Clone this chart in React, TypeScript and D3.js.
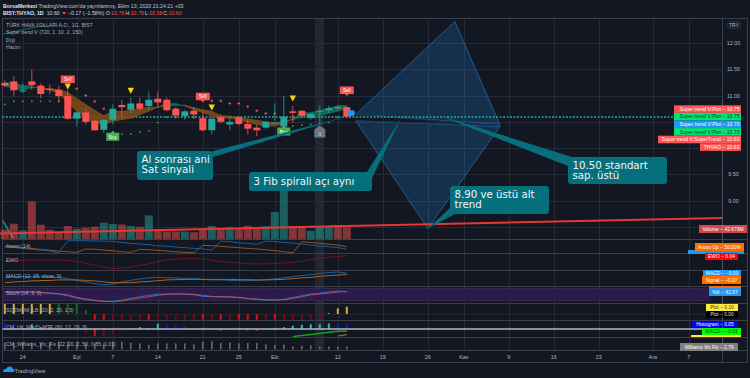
import React from "react";
import * as d3 from "d3";

// ---------- candles (price, TRY) ----------
const opens = [11.24,11.27,11.08,11.27,11.19,11.13,11.11,10.99,10.56,10.68,10.52,10.35,10.54,10.82,10.73,10.85,10.80,10.94,10.92,10.75,10.61,10.71,10.57,10.34,10.59,10.45,10.59,10.46,10.39,10.39,10.48,10.41,10.70,10.71,10.57,10.70,10.72,10.78,10.78];
const closes = [11.19,11.10,11.10,11.20,11.03,11.11,10.99,10.56,10.68,10.50,10.34,10.54,10.75,10.78,10.85,10.75,10.92,10.87,10.72,10.62,10.70,10.64,10.34,10.56,10.50,10.50,10.46,10.37,10.34,10.50,10.49,10.60,10.67,10.62,10.65,10.71,10.76,10.76,10.60];
const highs = [11.29,11.37,11.23,11.49,11.23,11.21,11.18,11.11,10.70,10.76,10.54,10.54,10.83,10.92,10.96,10.96,11.08,11.08,10.96,10.78,10.73,10.78,10.70,10.59,10.64,10.61,10.61,10.54,10.45,10.51,10.85,11.00,10.80,10.73,10.67,10.81,10.81,10.80,10.79];
const lows = [11.16,10.99,11.05,11.11,10.95,11.02,10.86,10.54,10.42,10.45,10.33,10.29,10.45,10.57,10.67,10.70,10.73,10.76,10.70,10.56,10.54,10.56,10.32,10.26,10.47,10.34,10.43,10.26,10.23,10.37,10.52,10.41,10.48,10.57,10.54,10.48,10.67,10.73,10.58];
const volumes = [34.6,56.8,32,139.6,53,34.6,26,48,38,42,45.7,60.5,55.6,54,48,45.7,87.7,33,28,28,28,25,34.6,48,39.5,44.5,38,49,44.5,47,100,181,48,43,31,45.7,48,52,42.68];

// ---------- trend ribbon ----------
const ribbonFast = [11.25,11.24,11.19,11.18,11.13,11.10,11.05,10.86,10.70,10.57,10.48,10.45,10.51,10.54,10.57,10.64,10.70,10.78,10.86,10.85,10.80,10.73,10.68,10.61,10.57,10.57,10.54,10.49,10.45,10.42,10.42,10.46,10.57,10.67,10.68,10.72,10.76,10.81,10.81];
const ribbonSlow = [11.18,11.13,11.11,11.15,11.15,11.13,11.11,11.06,10.95,10.83,10.72,10.62,10.70,10.70,10.72,10.75,10.78,10.78,10.80,10.81,10.82,10.77,10.73,10.70,10.62,10.61,10.57,10.56,10.53,10.50,10.48,10.51,10.54,10.59,10.61,10.62,10.66,10.70,10.75];

// ---------- supertrend dots: [bar, price] ----------
const stopsAbove = [[8,11.13],[9,11.0],[10,10.89],[11,10.75],[23,10.90],[24,10.90],[25,10.85],[26,10.85],[27,10.79],[28,10.71],[29,10.66],[30,10.66]];
const stopsBelow = [[0,10.83],[1,10.89],[2,10.89],[3,10.89],[4,10.89],[5,10.89],[6,10.89],[13,10.27],[14,10.27],[15,10.31],[16,10.33],[17,10.49],[18,10.59],[19,10.59],[20,10.59],[21,10.59],[32,10.42],[33,10.44],[34,10.45],[35,10.47],[36,10.49],[37,10.59]];

// ---------- signals: [bar, price] ----------
const sellSignals = [[7,11.25],[22,10.92],[38,11.04]];
const buySignals = [[12,10.33],[31,10.43]];
const dojiMarks = [[7,11.23],[14,11.15],[23,10.83],[32,11.0]];
const eventMark = [35,10.43];

// ---------- indicator panes ----------
const aroonUp = [56,49,42,35,28,21,14,8,3,31,28,22,17,8,3,28,25,19,14,8,3,0,61,58,53,47,42,36,31,25,17,8,0,92,85,78,71,64,50];
const aroonDown = [50,42,35,28,21,14,0,100,100,100,97,97,94,86,78,72,67,58,53,47,42,36,31,22,97,92,83,78,69,97,92,86,81,72,64,56,50,42,30];
const ewo = [-.34,-.31,-.29,-.27,-.27,-.27,-.27,-.30,-.38,-.50,-.65,-.80,-.90,-.86,-.78,-.66,-.55,-.40,-.26,-.19,-.17,-.17,-.19,-.29,-.37,-.43,-.48,-.53,-.56,-.55,-.52,-.48,-.44,-.35,-.25,-.15,-.07,-.01,.04];
const macdLine = [-.2,-.17,-.17,-.17,-.17,-.19,-.2,-.25,-.32,-.38,-.45,-.49,-.46,-.38,-.32,-.26,-.22,-.2,-.21,-.22,-.24,-.24,-.28,-.3,-.3,-.32,-.33,-.33,-.32,-.29,-.26,-.22,-.17,-.13,-.09,-.05,-.01,.01,-.03];
const macdSignal = [-.41,-.38,-.36,-.34,-.33,-.32,-.3,-.3,-.3,-.32,-.34,-.38,-.41,-.41,-.41,-.38,-.36,-.33,-.3,-.29,-.28,-.28,-.28,-.28,-.28,-.28,-.29,-.29,-.3,-.3,-.29,-.28,-.25,-.22,-.2,-.16,-.13,-.11,-.08];
const stochK = [62,62,62,62,59,56,52,44,33,25,20,17,17,23,31,39,46,51,52,54,52,49,41,39,39,38,35,30,26,23,23,26,36,44,52,57,62,67,62.67];
const stochD = [62,62,62,62,60,57,54,48,36,28,22,17,15,18,26,33,39,46,51,52,52,51,46,41,39,39,36,31,28,25,23,25,31,39,48,52,57,62,65];
const sqzValues = [.137,.137,.137,.137,.137,.137,.137,.137,.137,.055,-.08,-.08,-.08,-.08,-.08,-.08,-.08,-.08,-.08,-.08,-.08,-.08,-.08,-.08,-.08,-.08,-.08,-.08,-.08,-.08,-.08,-.08,-.08,-.08,-.08,-.08,.01,.077,.10];
const sqzKinds = "yyyyyygggg" + "rrmmmmrmmm" + "mmrmrmrrrm" + "rmmmmmyyy";
const histValues = [.07,.05,.03,.05,.02,.015,.01,0,-.015,-.04,-.075,-.075,-.05,-.02,.01,.02,.01,.055,.05,.04,.03,.01,-.015,-.01,-.02,-.01,-.015,-.02,-.02,-.005,.01,.02,.035,.045,.05,.05,.06,.055,.05];
const histKinds = "bbbaaaaa" + "mmrmmm" + "aaaa" + "bbbb" + "rmrmrrrm" + "aaaaaaa" + "bb";
const mtfBars = [32,33,34,35,36,37,38];
const mtfMacd = [-.064,-.053,-.043,-.033,-.021,-.011,-.01];
const mtfSigBars = [37,38];
const mtfSignal = [-.058,-.045];
const vixFix = [6.4,6.1,6.4,6.4,6.1,6.4,7.1,7.1,7.1,5.5,5.5,5.5,7.1,7.1,6.1,5.5,4,5.5,5.5,5.5,5.5,4.6,6.8,7.4,5.8,6.4,5.5,5.8,5.8,4.6,4,4.3,2.8,3.1,3.7,2.8,2.5,2.5,2.76];

// ---------- axes ----------
const timeBars = [2,8,12,17,22,26,30,37,42,47,51,56,61,66,72,76];
const timeLabels = ["24","Eyl","7","14","21","25","Eki","12","19","26","Kas","9","16","23","Ara","7"];
const priceTicks = [12,11.5,11,10.5,10,9.5,9,8.5];
const priceLabels = [12,11.5,11,9.5,9];

const legendMain = ["TÜRK HAVA YOLLARI A.O., 1G, BIST","Super trend V (720, 1, 10, 2, 150)","Doji","Hacim"];
const paneNames = ["Aroon (14)","EWO","MACD (12, 26, close, 9)","Stoch (14, 3, 3)","SQZMOM_LB (20, 2, 20, 1.5)","CM_Ult_MacD_MTF (60, 12, 26, 9)","CM_Williams_Vix_Fix (22, 20, 2, 50, 0.85, 1.01)"];

const priceTags = [
  {t:"Super trend V:Plot − 10.75",c:"#ff5252",f:"#fff"},
  {t:"Super trend V:Plot − 10.75",c:"#00e676",f:"#10302a"},
  {t:"Super trend V:Plot − 10.70",c:"#2196f3",f:"#fff"},
  {t:"Super trend V:Plot − 10.70",c:"#00e676",f:"#10302a"},
  {t:"Super trend V:SuperTrend − 10.60",c:"#ff5252",f:"#fff"},
  {t:"THYAO − 10.60",c:"#ff5252",f:"#fff"},
];
const paneTags = [
  {t:"Volume − 42.679M",x0:699,x1:747,y:225,h:8,c:"#ef5350",f:"#fff"},
  {t:"",x0:688,x1:744,y:250,h:4,c:"#2196f3",f:"#fff"},
  {t:"Aroon Up − 50.00%",x0:695,x1:744,y:243,h:8,c:"#ff6d00",f:"#fff"},
  {t:"EWO − 0.04",x0:705,x1:738,y:253,h:7,c:"#ff0000",f:"#fff"},
  {t:"MACD − −0.03",x0:703,x1:741,y:270,h:6,c:"#2196f3",f:"#fff"},
  {t:"Signal − −0.07",x0:702,x1:741,y:276,h:8,c:"#ff6d00",f:"#fff"},
  {t:"",x0:709,x1:741,y:286,h:2,c:"#ff6d00",f:"#fff"},
  {t:"%K − 62.67",x0:709,x1:741,y:288,h:8,c:"#2196f3",f:"#fff"},
  {t:"Plot − 0.10",x0:706,x1:738,y:304,h:7,c:"#ffeb3b",f:"#333"},
  {t:"Plot − 0.00",x0:706,x1:738,y:311,h:7,c:"#000000",f:"#ddd"},
  {t:"Histogram − 0.05",x0:692,x1:738,y:321,h:6,c:"#0000ff",f:"#fff"},
  {t:"",x0:691,x1:741,y:335,h:2,c:"#ffeb3b",f:"#fff"},
  {t:"MACD − −0.01",x0:702,x1:741,y:328,h:7,c:"#00ff00",f:"#0a3d0a"},
  {t:"Williams Vix Fix − 2.76",x0:680,x1:738,y:343,h:8,c:"#808080",f:"#fff"},
];

const callouts = [
  {lines:["Al sonrası ani","Sat sinyali"],x:137,y:151,w:76,h:29,tip:[38,10.60],base:[[213,151],[213,157]]},
  {lines:["3 Fib spirali açı aynı"],x:249,y:172,w:123,h:19,tip:[44,10.56],base:[[367,172],[372,178]]},
  {lines:["8.90 ve üstü alt","trend"],x:450,y:186,w:99,h:28,tip:[47,8.47],base:[[450,208],[455,214]]},
  {lines:["10.50 standart","sap. üstü"],x:568,y:157,w:99,h:27,tip:[48,10.64],base:[[572,157],[568,166]]},
];

const PANES = [239,253,270,286,303,320,337,350];
const CHART_L = 2.5, CHART_R = 722.5, TOP = 18.5, BOTTOM = 362.5;
const FONT = "'Liberation Sans', Arial, sans-serif";
const RED = "#ff5252", TEAL = "#26a69a", CALLOUT = "#056f7c", GRID = "#262a37";

const bandFill = {up:"#0f7058", down:"#7b4a16"};
const sqzColor: Record<string,string> = {y:"#c9b03c",g:"#0a6e12",r:"#d8101a",m:"#6c0e16"};
const histColor: Record<string,string> = {b:"#1212d8",a:"#14c0c8",r:"#c01820",m:"#6c1018"};

export default function App() {
  const x = d3.scaleLinear().domain([0, 1]).range([4.8, 13.8]);
  const y = d3.scaleLinear().domain([12, 8.5]).range([43, 227]);
  const vol = d3.scaleLinear().domain([0, 42.68]).range([239, 227.5]);
  const line2 = (ys: (v:number)=>number) =>
    d3.line<number>().x((_, i) => x(i)).y((v) => ys(v));

  const aroonY = d3.scaleLinear().domain([0,100]).range([252.7,240.7]);
  const ewoY = d3.scaleLinear().domain([-1,.1]).range([270,255]);
  const macdY = d3.scaleLinear().domain([-.5,.05]).range([285,271]);
  const stochY = d3.scaleLinear().domain([20,80]).range([300.7,288.3]);
  const sqzY = d3.scaleLinear().domain([0,.1]).range([314,306.7]);
  const histY = d3.scaleLinear().domain([0,.05]).range([329,324.3]);
  const mtfY = d3.scaleLinear().domain([-.01,-.07]).range([331.2,337.2]);
  const vixY = d3.scaleLinear().domain([0,2.76]).range([349.3,346.3]);

  // ribbon segments by sign of fast - slow
  const segments: {start:number,end:number,up:boolean}[] = [];
  ribbonFast.forEach((v,i)=>{
    const up = v > ribbonSlow[i];
    const last = segments[segments.length-1];
    if (!last || last.up !== up) {
      if (last) last.end = i;
      segments.push({start: last ? i : 0, end: i, up});
    } else last.end = i;
  });
  const ribbonArea = d3.area<number>().x((i)=>x(i)).y0((i)=>y(ribbonFast[i])).y1((i)=>y(ribbonSlow[i]));

  const bars = d3.range(closes.length);

  const fibUpper = [[39,10.64],[50,12.41],[55,10.45]];
  const fibLower = [[39,10.52],[47,8.47],[55,10.41]];
  const polyPath = (pts:number[][]) => d3.line()(pts.map(([i,p])=>[x(i),y(p)] as [number,number]))+"Z";

  return (
    <svg width={750} height={378} viewBox="0 0 750 378" style={{position:"fixed",left:0,top:0,display:"block",background:"#131722"}} fontFamily={FONT}>
      <rect width={750} height={378} fill="#131722" />
      {/* header */}
      <text x={3} y={7.5} fontSize={5.25} fill="#c3c6d0"><tspan fontWeight="bold" fill="#e0e3eb">BorsaMerkezi</tspan> TradingView.com'da yayınlanmış, Ekim 13, 2020 21:24:21 +03</text>
      <text x={3} y={14.5} fontSize={5.25} fill="#d1d4dc">
        <tspan fontWeight="bold" fill="#e0e3eb">BIST:THYAO, 1D</tspan>
        <tspan dx={3}>10.60</tspan>
        <tspan dx={1.5} fill="#ef5350">▼</tspan>
        <tspan dx={1.5}>−0.17 (−1.58%)</tspan>
        <tspan dx={1.5}>O:</tspan><tspan fill="#ef5350">10.78</tspan>
        <tspan dx={1}>H:</tspan><tspan fill="#ef5350">10.79</tspan>
        <tspan dx={1}>L:</tspan><tspan fill="#ef5350">10.58</tspan>
        <tspan dx={1}>C:</tspan><tspan fill="#ef5350">10.60</tspan>
      </text>

      {/* grid */}
      {timeBars.map((b,i)=>(<line key={i} x1={Math.round(x(b))+.5} x2={Math.round(x(b))+.5} y1={TOP} y2={350} stroke={GRID}/>))}
      {priceTicks.map((p)=>(<line key={p} x1={CHART_L} x2={CHART_R} y1={Math.round(y(p))+.5} y2={Math.round(y(p))+.5} stroke={GRID}/>))}
      {/* highlighted session band */}
      <rect x={315} y={TOP} width={9} height={332} fill="#2a2e39" opacity={0.75}/>

      {/* frame */}
      <rect x={CHART_L} y={TOP} width={745} height={BOTTOM-TOP} fill="none" stroke="#3a3e4b"/>
      <line x1={CHART_R} x2={CHART_R} y1={TOP} y2={BOTTOM} stroke="#3a3e4b"/>
      {PANES.map((p)=>(<line key={p} x1={CHART_L} x2={p===239?747:CHART_R+24.5} y1={p+.5} y2={p+.5} stroke="#3a3e4b"/>))}

      {/* price axis */}
      {priceLabels.map((p)=>(<text key={p} x={733.5} y={y(p)+2} fontSize={5.4} fill="#b2b5be" textAnchor="middle">{p.toFixed(2)}</text>))}
      <rect x={727.5} y={21.5} width={13} height={7} rx={2} fill="#1b1f2b" stroke="#2a2e39"/>
      <text x={734} y={27} fontSize={5} fill="#b2b5be" textAnchor="middle">TRY</text>

      {/* stray trend line pieces */}
      <line x1={3} y1={34} x2={45} y2={25} stroke="#056f7c" strokeWidth={1}/>
      <line x1={3} y1={221} x2={13} y2={238} stroke="#0a8a98" strokeWidth={1.6}/>

      {/* volume */}
      {volumes.map((v,i)=>{
        const up = closes[i] >= opens[i];
        return <rect key={i} x={x(i)-4} y={vol(v)} width={8} height={239-vol(v)} fill={up?TEAL:"#ef5350"} opacity={0.5}/>;
      })}

      {/* fib shapes */}
      <path d={polyPath(fibUpper)} fill="#2196f3" fillOpacity={0.2} stroke="#1e6aa8" strokeWidth={0.8}/>
      <path d={polyPath(fibLower)} fill="#2196f3" fillOpacity={0.2} stroke="#1e6aa8" strokeWidth={0.8}/>
      <line x1={x(39)} y1={y(10.64)} x2={x(55)} y2={y(10.43)} stroke="#16324d" strokeWidth={1}/>
      <line x1={x(39)} y1={y(10.52)} x2={x(55)} y2={y(10.43)} stroke="#16324d" strokeWidth={1}/>

      {/* horizontal dashed level */}
      <line x1={CHART_L} x2={CHART_R} y1={117} y2={117} stroke={TEAL} strokeWidth={1.6} strokeDasharray="2 1.5"/>

      {/* ribbon */}
      {segments.map((s,k)=>(
        <path key={k} d={ribbonArea(d3.range(s.start,s.end+1))||""} fill={s.up?bandFill.up:bandFill.down} stroke={s.up?"#159a78":"#c46a1c"} strokeWidth={0.4} opacity={0.9}/>
      ))}

      {/* stops */}
      {stopsAbove.map(([b,p],i)=>(<path key={i} d={`M${x(b)-1.3},${y(p)}H${x(b)+1.3}M${x(b)},${y(p)-1.3}V${y(p)+1.3}`} stroke="#ef5350" strokeWidth={1}/>))}
      {stopsBelow.map(([b,p],i)=>(<circle key={i} cx={x(b)} cy={y(p)} r={1} fill="#1f9a4c"/>))}

      {/* candles */}
      {bars.map((i)=>{
        const up = closes[i] >= opens[i];
        const c = up?TEAL:RED;
        const t = y(Math.max(opens[i],closes[i]));
        const b = y(Math.min(opens[i],closes[i]));
        return (
          <g key={i}>
            <line x1={x(i)} x2={x(i)} y1={y(highs[i])} y2={y(lows[i])} stroke={c} strokeWidth={0.8}/>
            <rect x={x(i)-3.5} y={t} width={7} height={Math.max(1,b-t)} fill={c}/>
          </g>
        );
      })}
      {/* blue end marker */}
      <rect x={x(38)+1} y={y(10.72)} width={7} height={5.6} rx={2} fill="#2196f3"/>

      {/* signals */}
      {dojiMarks.map(([b,p],i)=>(<path key={i} d={`M${x(b)-3.2},${y(p)}h6.4l-3.2,6z`} fill="#ffd600"/>))}
      {sellSignals.map(([b,p],i)=>(
        <g key={i}>
          <path d={`M${x(b)-7},${y(p)-7}h14v7.5h-5l-2,2l-2,-2h-5z`} fill="#ff5252"/>
          <text x={x(b)} y={y(p)-1.4} fontSize={4.6} fill="#fff" textAnchor="middle">Sell</text>
        </g>
      ))}
      {buySignals.map(([b,p],i)=>(
        <g key={i}>
          <path d={`M${x(b)-6.5},${y(p)+2}h4.5l2,-2l2,2h4.5v8h-13z`} fill="#4caf50"/>
          <text x={x(b)} y={y(p)+8} fontSize={4.6} fill="#fff" textAnchor="middle">Buy</text>
        </g>
      ))}
      <path d={`M${x(eventMark[0])},${y(eventMark[1])}l5.5,4v8h-11v-8z`} fill="#6f7480"/>
      <text x={x(eventMark[0])} y={y(eventMark[1])+10} fontSize={5} fill="#d1d4dc" textAnchor="middle">0</text>

      {/* long trend line */}
      <line x1={0} y1={233.5} x2={722} y2={218} stroke="#e53935" strokeWidth={2}/>

      {/* callouts */}
      {callouts.map((c,k)=>{
        const tip:[number,number] = [x(c.tip[0]),y(c.tip[1])];
        return (
          <g key={k}>
            <path d={d3.line()([c.base[0] as [number,number],tip,c.base[1] as [number,number]])+"Z"} fill={CALLOUT}/>
            <rect x={c.x} y={c.y} width={c.w} height={c.h} rx={3} fill={CALLOUT}/>
            {c.lines.map((l,j)=>(<text key={j} x={c.x+4.5} y={c.y+(c.lines.length===1?13:11.5)+j*10.5} fontSize={10.2} fill="#f2f5f7" fontFamily="'DejaVu Sans', sans-serif">{l}</text>))}
          </g>
        );
      })}

      {/* legends */}
      {legendMain.map((t,i)=>(<text key={i} x={6} y={27+i*7.4} fontSize={5.15} fill="#a8abb5">{t}</text>))}

      {/* aroon */}
      <path d={line2(aroonY)(aroonUp)||""} fill="none" stroke="#b3621a" strokeWidth={0.8}/>
      <path d={line2(aroonY)(aroonDown)||""} fill="none" stroke="#1464a8" strokeWidth={0.9}/>
      {/* ewo */}
      <path d={line2(ewoY)(ewo)||""} fill="none" stroke="#7b1420" strokeWidth={0.9}/>
      {/* macd */}
      <path d={line2(macdY)(macdLine)||""} fill="none" stroke="#1464a8" strokeWidth={1}/>
      <path d={line2(macdY)(macdSignal)||""} fill="none" stroke="#b3621a" strokeWidth={1}/>
      {/* stoch */}
      <rect x={CHART_L} y={stochY(80)} width={708} height={stochY(20)-stochY(80)} fill="#2d1b4e"/>
      <line x1={CHART_L} x2={711} y1={stochY(80)} y2={stochY(80)} stroke="#6d5a7f" strokeWidth={0.5} strokeDasharray="2 2"/>
      <line x1={CHART_L} x2={711} y1={stochY(20)} y2={stochY(20)} stroke="#6d5a7f" strokeWidth={0.5} strokeDasharray="2 2"/>
      <path d={line2(stochY)(stochK)||""} fill="none" stroke="#2a78c8" strokeWidth={0.9}/>
      <path d={line2(stochY)(stochD)||""} fill="none" stroke="#c25a4a" strokeWidth={0.8}/>
      {/* squeeze */}
      <line x1={CHART_L} x2={CHART_R} y1={314.5} y2={314.5} stroke="#2a2e39" strokeWidth={0.6}/>
      {sqzValues.map((v,i)=>(<rect key={i} x={x(i)-1} y={Math.min(sqzY(v),314)} width={2} height={Math.abs(sqzY(v)-314)} fill={sqzColor[sqzKinds[i]]}/>))}
      {/* cm ult */}
      {histValues.map((v,i)=>(<rect key={i} x={x(i)-1} y={Math.min(histY(v),329)} width={2} height={Math.abs(histY(v)-329)} fill={histColor[histKinds[i]]}/>))}
      <line x1={CHART_L} x2={702} y1={329} y2={329} stroke="#b7bac2" strokeWidth={1.5}/>
      <path d={d3.line<number>().x((b)=>x(b)).y((_,i)=>mtfY(mtfMacd[i]))(mtfBars)||""} fill="none" stroke="#0fa51a" strokeWidth={1.4}/>
      <path d={d3.line<number>().x((b)=>x(b)).y((_,i)=>mtfY(mtfSignal[i]))(mtfSigBars)||""} fill="none" stroke="#8a7a20" strokeWidth={1.2}/>
      {/* vix fix */}
      {vixFix.map((v,i)=>(<rect key={i} x={x(i)-.75} y={vixY(v)} width={1.5} height={349.3-vixY(v)} fill="#6b6f78"/>))}

      {paneNames.map((t,i)=>(<text key={i} x={6} y={[248,262,278,295,312,329,346][i]} fontSize={5.2} fill="#a8abb5">{t}</text>))}

      {/* time axis */}
      {timeLabels.map((t,i)=>(<text key={i} x={x(timeBars[i])} y={358.5} fontSize={5.4} fill="#b2b5be" textAnchor="middle">{t}</text>))}

      {/* price tags */}
      {priceTags.map((g,i)=>{
        const widths = [67,67,67,67,83,41];
        const h = 7.6;
        const top = 105.3 + i*7.6;
        return (
          <g key={i}>
            <rect x={741-widths[i]} y={top} width={widths[i]} height={h} fill={g.c}/>
            <text x={739.5} y={top+5.5} fontSize={5.1} fill={g.f} textAnchor="end">{g.t}</text>
          </g>
        );
      })}
      {paneTags.map((g,i)=>(
        <g key={i}>
          <rect x={g.x0} y={g.y} width={g.x1-g.x0} height={g.h} fill={g.c} opacity={i===0?0.85:1}/>
          {g.t && <text x={(g.x0+g.x1)/2} y={g.y+g.h/2+1.7} fontSize={4.9} fill={g.f} textAnchor="middle">{g.t}</text>}
        </g>
      ))}
      <line x1={CHART_R} x2={CHART_R} y1={100} y2={352} stroke="#9aa0ac" strokeWidth={0.4} opacity={0.5}/>

      {/* footer */}
      <path d="M3,372 q0,-3 3,-3 q1,-3 4,-2.5 q2.5,0 3,2.5 q1.5,.2 1.5,1.7 q0,1.3 -1.5,1.3 h-9 q-.5,0 -.5,0z" fill="#2196f3"/>
      <text x={14.5} y={373} fontSize={5.6} fill="#b2b5be">TradingView</text>
    </svg>
  );
}
